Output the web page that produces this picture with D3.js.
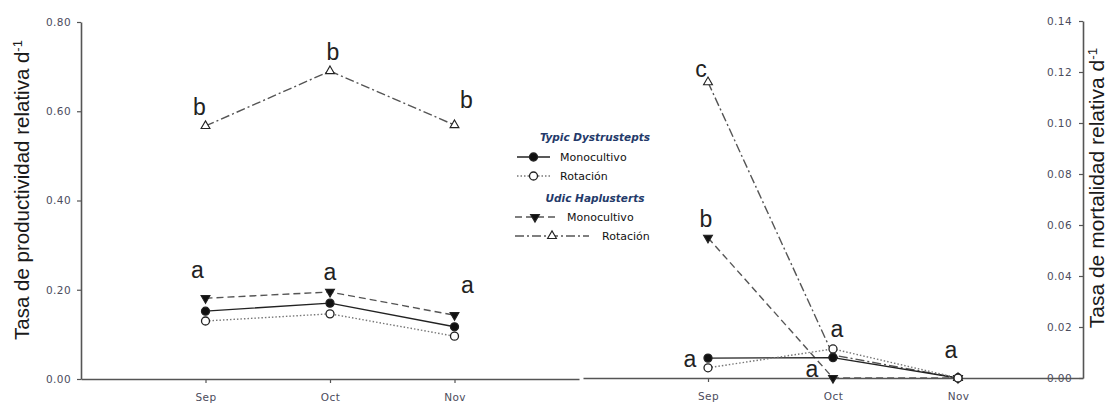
<!DOCTYPE html>
<html>
<head>
<meta charset="utf-8">
<script src="https://cdn.jsdelivr.net/npm/d3@7"></script>
<style>
  html, body { margin: 0; padding: 0; background: white; }
  svg { display: block; font-family: 'Liberation Sans', Arial, sans-serif; }
</style>
</head>
<body>
<script>
// months on both panels
var months = ["Sep", "Oct", "Nov"];

// productividad relativa (left panel)
var prodTypicMono = [0.152, 0.170, 0.117];
var prodTypicRot  = [0.130, 0.146, 0.096];
var prodUdicMono  = [0.181, 0.195, 0.143];
var prodUdicRot   = [0.567, 0.690, 0.569];

// mortalidad relativa (right panel)
var mortTypicMono = [0.0078, 0.0080, 0.0];
var mortTypicRot  = [0.0040, 0.0114, 0.0];
var mortUdicMono  = [0.0550, 0.0000, 0.0];
var mortUdicRot   = [0.1160, 0.0090, 0.0];

var prodTicks = [0, 0.2, 0.4, 0.6, 0.8];
var mortTicks = [0, 0.02, 0.04, 0.06, 0.08, 0.10, 0.12, 0.14];

// significance letters: series key, month index, letter
var prodLetters = [
  ["udicRot", 0, "b"], ["udicRot", 1, "b"], ["udicRot", 2, "b"],
  ["udicMono", 0, "a"], ["udicMono", 1, "a"], ["udicMono", 2, "a"]
];
var mortLetters = [
  ["udicRot", 0, "c"], ["udicMono", 0, "b"], ["typicMono", 0, "a"],
  ["typicRot", 1, "a"], ["udicMono", 1, "a"], ["typicRot", 2, "a"]
];

var W = 1110, H = 405;
var svg = d3.select("body").append("svg").attr("width", W).attr("height", H);

var styles = {
  typicMono: { dash: null,         color: "#222", marker: "circle",  fill: "#111" },
  typicRot:  { dash: "1.5,2",      color: "#777", marker: "circle",  fill: "white" },
  udicMono:  { dash: "7,4",        color: "#555", marker: "triDown", fill: "#111" },
  udicRot:   { dash: "9,3,2,3",    color: "#555", marker: "triUp",   fill: "white" }
};

function drawMarker (g, type, x, y, fill) {
  if (type == "circle") {
    g.append("circle").attr("cx", x).attr("cy", y).attr("r", 4)
     .attr("fill", fill).attr("stroke", "#222").attr("stroke-width", 1.3);
  } else {
    var sym = d3.symbol().type(d3.symbolTriangle).size(34);
    g.append("path").attr("d", sym())
     .attr("transform", "translate(" + x + "," + y + ")" + (type == "triDown" ? " rotate(180)" : ""))
     .attr("fill", fill).attr("stroke", "#222").attr("stroke-width", 1.1);
  }
}

function drawSeries (g, x, y, key, values) {
  var st = styles[key];
  var line = d3.line().x(function (d, i) { return x(months[i]); }).y(function (d) { return y(d); });
  g.append("path").datum(values).attr("d", line)
   .attr("fill", "none").attr("stroke", st.color).attr("stroke-width", 1.4)
   .attr("stroke-dasharray", st.dash);
  values.forEach(function (v, i) { drawMarker(g, st.marker, x(months[i]), y(v), st.fill); });
}

function styleAxis (ax) {
  ax.select(".domain").attr("stroke", "#555").attr("stroke-width", 1.6);
  ax.selectAll(".tick line").attr("stroke", "#555").attr("stroke-width", 1.2);
  ax.selectAll(".tick text").attr("fill", "#4c4c5c").style("font-size", "10.5px")
    .style("letter-spacing", "0.4px")
    .style("font-family", "'DejaVu Sans', Verdana, sans-serif");
}

// ---------- left panel ----------
var xL = d3.scalePoint().domain(months).range([81, 579]).padding(1);
var yL = d3.scaleLinear().domain([0, 0.8]).range([379, 22]);

var axL = svg.append("g").attr("transform", "translate(81,0)")
  .call(d3.axisLeft(yL).tickValues(prodTicks).tickFormat(d3.format(".2f")).tickSize(4).tickSizeOuter(0).tickPadding(6));
styleAxis(axL);
var axLb = svg.append("g").attr("transform", "translate(0,379)")
  .call(d3.axisBottom(xL).tickSize(4).tickSizeOuter(0).tickPadding(11));
styleAxis(axLb);

svg.append("text")
  .attr("transform", "translate(29,190) rotate(-90)")
  .attr("text-anchor", "middle").attr("fill", "#1a1a1a")
  .style("font-size", "20.5px")
  .text("Tasa de productividad relativa d")
  .append("tspan").attr("baseline-shift", "super").style("font-size", "13px").text("-1");

var gL = svg.append("g");
var prodData = { typicMono: prodTypicMono, typicRot: prodTypicRot, udicMono: prodUdicMono, udicRot: prodUdicRot };
["typicRot", "typicMono", "udicMono", "udicRot"].forEach(function (k) { drawSeries(gL, xL, yL, k, prodData[k]); });

// letter offsets (pixels from point to text baseline)
var prodOffsets = [[-6, -11], [3, -11], [12, -17], [-8, -20], [0, -12], [13, -22]];
prodLetters.forEach(function (l, i) {
  svg.append("text")
    .attr("x", xL(months[l[1]]) + prodOffsets[i][0])
    .attr("y", yL(prodData[l[0]][l[1]]) + prodOffsets[i][1])
    .attr("text-anchor", "middle").attr("fill", "#222")
    .style("font-size", "23px").text(l[2]);
});

// ---------- right panel ----------
var xR = d3.scalePoint().domain(months).range([583, 1083]).padding(1);
var yR = d3.scaleLinear().domain([0, 0.14]).range([378, 21]);

var axR = svg.append("g").attr("transform", "translate(1083,0)")
  .call(d3.axisLeft(yR).tickValues(mortTicks).tickFormat(d3.format(".2f")).tickSize(4).tickSizeOuter(0).tickPadding(7));
styleAxis(axR);
var axRb = svg.append("g").attr("transform", "translate(0,378)")
  .call(d3.axisBottom(xR).tickSize(4).tickSizeOuter(0).tickPadding(11));
styleAxis(axRb);

svg.append("text")
  .attr("transform", "translate(1104,188) rotate(-90)")
  .attr("text-anchor", "middle").attr("fill", "#1a1a1a")
  .style("font-size", "21px")
  .text("Tasa de mortalidad relativa d")
  .append("tspan").attr("baseline-shift", "super").style("font-size", "13.5px").text("-1");

var gR = svg.append("g");
var mortData = { typicMono: mortTypicMono, typicRot: mortTypicRot, udicMono: mortUdicMono, udicRot: mortUdicRot };
["udicRot", "udicMono", "typicMono", "typicRot"].forEach(function (k) { drawSeries(gR, xR, yR, k, mortData[k]); });

var mortOffsets = [[-7, -5], [-2, -11], [-18, 9], [4, -12], [-21, -1], [-7, -20]];
mortLetters.forEach(function (l, i) {
  svg.append("text")
    .attr("x", xR(months[l[1]]) + mortOffsets[i][0])
    .attr("y", yR(mortData[l[0]][l[1]]) + mortOffsets[i][1])
    .attr("text-anchor", "middle").attr("fill", "#222")
    .style("font-size", "23px").text(l[2]);
});

// ---------- legend ----------
var leg = svg.append("g").style("font-size", "11px")
  .style("font-family", "'DejaVu Sans', Verdana, sans-serif");
var legendRows = [
  { title: "Typic Dystrustepts", y: 141 },
  { key: "typicMono", label: "Monocultivo", y: 157, x1: 517, x2: 550, tx: 560 },
  { key: "typicRot",  label: "Rotación",    y: 176, x1: 517, x2: 550, tx: 560 },
  { title: "Udic Haplusterts", y: 202 },
  { key: "udicMono",  label: "Monocultivo", y: 217, x1: 515, x2: 555, tx: 567 },
  { key: "udicRot",   label: "Rotación",    y: 236, x1: 515, x2: 589, tx: 602 }
];
legendRows.forEach(function (r) {
  if (r.title) {
    leg.append("text").attr("x", 595).attr("y", r.y).attr("text-anchor", "middle")
       .attr("fill", "#243a6a").style("font-style", "italic").style("font-weight", "bold")
       .style("font-size", "10.5px")
       .text(r.title);
    return;
  }
  var st = styles[r.key];
  leg.append("line").attr("x1", r.x1).attr("x2", r.x2).attr("y1", r.y).attr("y2", r.y)
     .attr("stroke", st.color).attr("stroke-width", 1.4).attr("stroke-dasharray", st.dash);
  drawMarker(leg, st.marker, (r.x1 + r.x2) / 2, r.y, st.fill);
  leg.append("text").attr("x", r.tx).attr("y", r.y + 4).attr("fill", "#111").text(r.label);
});
</script>
</body>
</html>
